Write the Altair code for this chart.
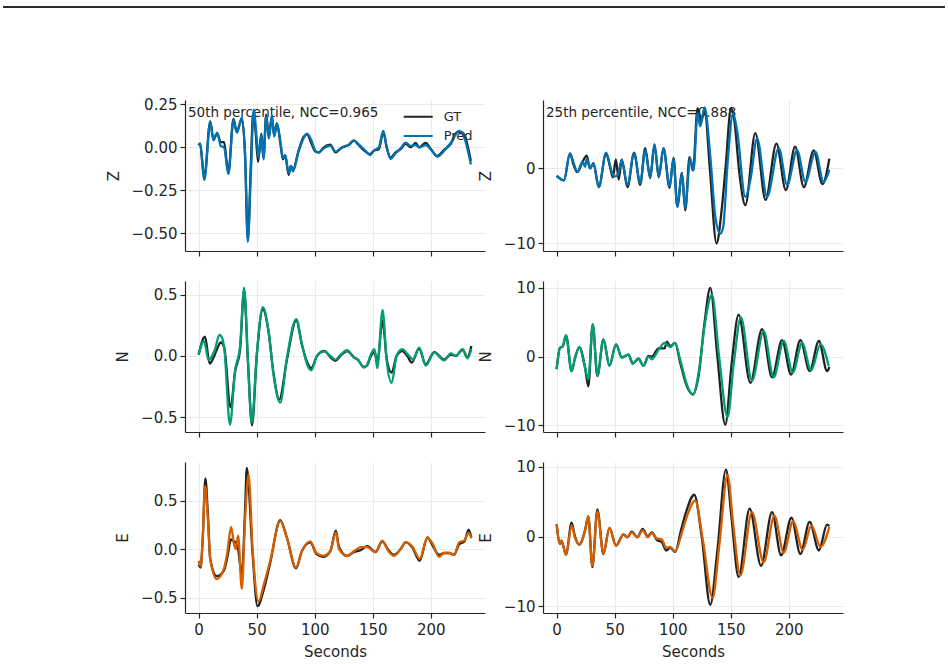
import altair as alt
import pandas as pd

FONT = "DejaVu Sans"
INK = "#262626"

# ---------------- data (seconds, amplitude) ----------------
# Z, 50th percentile
z50_gt_t = [0, 1.2, 4.9, 10.0, 12.7, 16.1, 19.0, 21.9, 25.6, 30.0, 32.9, 37.2, 40.0, 42.4, 45.0, 47.0, 49.0, 51.2, 54.0, 55.9, 58.2, 60.5, 63.1, 65.1, 67.4, 70.3, 72.6, 74.7, 77.5, 79.5, 81.3, 86.1, 90.4, 93.4, 96.8, 100.6, 103.5, 107.8, 113.5, 117.9, 123.6, 129.4, 133.7, 138.0, 143.8, 147.6, 151.0, 155.3, 159.1, 162.0, 165.4, 169.7, 174.1, 178.4, 182.7, 187.0, 190.0, 195.7, 200.0, 205.8, 211.5, 217.3, 223.0, 227.4, 234.6]
z50_gt_v = [0.01, 0.02, -0.175, 0.15, 0.05, 0.08, 0.03, 0.03, -0.15, 0.165, 0.09, 0.165, -0.04, -0.535, -0.1, 0.2, 0.1, -0.085, 0.08, -0.06, 0.19, 0.06, 0.18, 0.07, 0.14, 0.03, -0.07, -0.05, -0.16, -0.11, -0.13, -0.02, 0.06, 0.075, 0.03, -0.025, -0.03, 0.0, 0.015, -0.03, 0.0, 0.015, 0.04, 0.012, -0.025, -0.04, -0.02, -0.01, 0.09, 0.0, -0.06, -0.03, -0.01, 0.02, 0.0, 0.025, 0.0, 0.025, -0.01, -0.05, -0.015, 0.02, 0.09, 0.085, -0.08]
z50_pr_t = [0, 1.2, 4.9, 10.0, 12.7, 16.1, 19.0, 21.9, 25.6, 30.0, 32.9, 37.2, 40.0, 42.4, 45.0, 47.5, 50.1, 51.6, 54.0, 55.9, 58.2, 60.5, 63.1, 65.1, 67.4, 70.3, 72.6, 74.7, 77.5, 79.5, 81.3, 86.1, 90.4, 93.4, 96.8, 100.6, 103.5, 107.8, 113.5, 117.9, 123.6, 129.4, 133.7, 138.0, 143.8, 147.6, 151.0, 155.3, 159.1, 162.0, 165.4, 169.7, 174.1, 178.4, 182.7, 187.0, 190.0, 195.7, 200.0, 205.8, 211.5, 217.3, 224.5, 227.4, 234.6]
z50_pr_v = [0.013, 0.023, -0.19, 0.148, 0.04, 0.085, 0.008, 0.0, -0.155, 0.158, 0.085, 0.173, -0.05, -0.55, -0.15, 0.219, 0.04, -0.06, 0.07, -0.07, 0.18, 0.05, 0.186, 0.062, 0.138, 0.042, -0.063, -0.044, -0.15, -0.108, -0.14, -0.025, 0.052, 0.08, 0.046, -0.02, -0.031, -0.006, 0.01, -0.025, -0.002, 0.013, 0.037, 0.017, -0.021, -0.046, -0.019, 0.0, 0.096, 0.004, -0.067, -0.035, -0.006, 0.027, 0.008, 0.013, 0.0, 0.013, -0.012, -0.054, -0.021, 0.027, 0.096, 0.081, -0.10]

# Z, 25th percentile
z25_gt_t = [0, 4.3, 6.3, 11.5, 14.5, 17.8, 22.4, 25.9, 28.8, 31.7, 36.3, 42.6, 46.0, 48.5, 51.0, 53.5, 56.1, 61.0, 66.8, 72.0, 76.3, 80.6, 84.3, 88.0, 92.1, 97.3, 100.7, 104.0, 108.0, 110.8, 114.5, 117.5, 121.4, 124.5, 127.5, 132.0, 137.8, 142.0, 145.5, 150.3, 153.0, 157.5, 162.6, 171.2, 180.0, 189.4, 197.5, 205.5, 213.0, 221.5, 229.0, 235.0]
z25_gt_v = [-1.0, -1.5, -1.6, 2.0, 0.5, -0.5, 0.9, 1.7, 0.0, 0.7, -2.5, 2.0, 0.2, -1.2, 1.2, -1.5, 1.2, -2.5, 2.1, -2.2, 2.7, -1.3, 3.2, -1.2, 2.7, -2.6, 1.4, -5.1, -0.6, -5.6, 1.5, -0.3, 8.0, 6.2, 7.9, 0.0, -10.0, -5.8, 0.0, 8.0, 6.5, -0.7, -4.9, 4.7, -4.2, 3.3, -2.9, 2.9, -2.5, 2.4, -2.1, 1.3]
z25_pr_t = [0, 4.3, 6.3, 11.5, 14.5, 17.8, 22.4, 24.5, 25.9, 28.8, 31.7, 36.3, 42.6, 47.5, 49.5, 52.5, 56.1, 61.0, 66.8, 72.0, 76.3, 80.6, 84.3, 88.0, 92.1, 97.3, 100.7, 104.0, 108.0, 110.8, 115.1, 118.0, 121.4, 123.7, 127.5, 132.4, 136.7, 141.0, 143.5, 147.3, 152.0, 155.5, 162.6, 167.0, 172.7, 181.3, 191.4, 198.6, 207.2, 214.4, 223.0, 230.0, 235.0]
z25_pr_v = [-1.0, -1.5, -1.6, 2.0, 0.8, -0.45, 0.9, 0.2, 1.3, 0.0, 0.67, -2.5, 2.1, -0.45, -1.1, -0.9, 1.1, -2.2, 2.0, -2.0, 2.4, -1.2, 3.1, -1.1, 2.7, -2.4, 1.3, -5.1, -0.7, -5.3, 1.3, -0.2, 7.3, 5.6, 8.1, 1.6, -6.4, -8.7, -7.8, 0.7, 7.3, 5.0, -3.8, -1.5, 4.0, -3.8, 2.7, -2.2, 2.4, -1.8, 2.2, -1.8, -0.2]

# N, 50th percentile
n50_gt_t = [0, 5.5, 9.5, 13.5, 16.5, 19.0, 22.0, 27.5, 31.4, 35.7, 39.2, 42.5, 46.0, 50.1, 55.3, 60.2, 64.5, 69.5, 76.1, 84.1, 89.0, 93.4, 97.1, 102.0, 108.4, 113.5, 117.9, 122.2, 128.0, 133.7, 137.0, 142.4, 145.0, 148.5, 151.6, 153.9, 158.5, 162.0, 166.3, 170.6, 175.5, 180.4, 183.5, 190.0, 195.7, 203.0, 211.5, 217.3, 221.6, 227.4, 231.7, 235.0]
n50_gt_v = [0.01, 0.156, -0.063, 0.0, 0.07, 0.11, 0.07, -0.42, -0.13, 0.05, 0.53, -0.05, -0.565, 0.0, 0.38, 0.2, -0.14, -0.355, -0.03, 0.29, 0.09, -0.05, -0.1, 0.0, 0.04, -0.01, -0.04, 0.0, 0.04, -0.01, -0.03, -0.09, -0.08, 0.0, 0.03, -0.05, 0.287, -0.02, -0.137, 0.0, 0.04, -0.01, -0.055, 0.06, -0.07, 0.03, -0.03, 0.01, 0.0, 0.05, -0.01, 0.08]
n50_pr_t = [0, 4.6, 8.6, 11.0, 14.0, 17.9, 20.5, 22.0, 27.0, 31.4, 35.7, 39.2, 42.5, 45.8, 50.1, 55.3, 60.2, 64.5, 70.3, 76.1, 84.1, 89.0, 93.4, 97.1, 102.0, 108.4, 113.5, 117.9, 122.2, 128.0, 133.7, 137.0, 142.4, 145.0, 148.5, 151.6, 153.9, 158.5, 162.0, 166.3, 170.6, 175.5, 180.4, 185.0, 190.0, 195.7, 203.0, 211.5, 217.3, 221.6, 227.4, 231.7, 235.0]
n50_pr_v = [0.014, 0.12, -0.035, -0.01, 0.05, 0.17, 0.14, 0.07, -0.56, -0.12, 0.08, 0.555, -0.04, -0.546, 0.014, 0.396, 0.205, -0.15, -0.38, -0.014, 0.3, 0.096, -0.068, -0.117, 0.0, 0.036, 0.0, -0.03, 0.008, 0.046, -0.014, -0.027, -0.096, -0.077, 0.014, 0.055, -0.1, 0.374, -0.041, -0.22, 0.0, 0.055, 0.01, -0.03, 0.068, -0.08, 0.027, -0.036, 0.02, 0.0, 0.055, -0.02, 0.055]

# N, 25th percentile
n25_gt_t = [0, 2.9, 5.2, 8.1, 12.9, 15.8, 19.6, 24.5, 27.3, 31.1, 35.1, 40.3, 45.5, 51.2, 56.1, 61.9, 65.6, 70.5, 74.8, 79.1, 82.0, 87.8, 93.0, 95.0, 97.9, 102.0, 106.5, 112.0, 117.4, 122.3, 127.5, 132.4, 138.5, 145.3, 150.8, 156.8, 166.9, 177.0, 185.6, 194.2, 202.0, 210.0, 218.0, 226.0, 233.0, 235.0]
n25_gt_v = [-1.8, 1.3, 1.5, 3.1, -2.1, -0.2, 1.4, -1.6, -4.3, 4.7, -2.8, 2.5, -1.3, 1.8, -0.1, 0.3, -1.0, -0.3, -1.3, 0.1, 0.0, 1.2, 1.2, 2.2, 1.5, 2.0, -0.9, -4.2, -5.5, -2.8, 5.0, 10.0, 0.0, -9.9, -1.0, 6.1, -3.8, 4.0, -3.0, 2.4, -2.6, 2.4, -2.1, 2.3, -2.1, -1.5]
n25_pr_t = [0, 2.9, 5.2, 8.1, 12.9, 15.8, 19.6, 24.5, 27.3, 31.1, 35.1, 40.3, 45.5, 51.2, 56.1, 61.9, 65.6, 70.5, 74.8, 79.1, 82.0, 87.8, 93.0, 97.9, 102.0, 106.5, 113.0, 117.4, 122.3, 127.5, 133.8, 140.0, 147.3, 152.5, 158.8, 168.3, 178.4, 187.0, 195.7, 203.5, 211.5, 219.3, 227.4, 234.5]
n25_pr_v = [-1.8, 1.3, 1.5, 3.1, -2.1, -0.2, 1.4, -1.6, -3.3, 4.7, -2.8, 2.5, -1.35, 1.8, -0.15, 0.34, -1.0, -0.24, -1.35, 0.0, -0.4, 1.0, 2.0, 1.4, 2.0, -0.5, -4.4, -5.5, -2.4, 4.5, 9.0, 0.0, -8.8, -1.2, 5.7, -3.5, 3.7, -3.0, 2.3, -2.3, 2.0, -2.0, 1.8, -1.4]

# E, 50th percentile
e50_gt_t = [0, 1.7, 3.5, 5.8, 8.0, 10.0, 15.6, 21.9, 24.5, 28.0, 30.5, 32.0, 34.0, 37.2, 40.0, 41.5, 46.5, 50.7, 56.5, 61.7, 70.3, 76.0, 83.9, 89.0, 96.3, 101.5, 107.2, 113.5, 118.2, 121.0, 128.0, 134.0, 139.5, 145.3, 152.4, 158.2, 163.5, 168.3, 174.0, 178.4, 184.0, 190.5, 197.1, 201.5, 207.2, 211.5, 216.0, 220.0, 224.5, 229.0, 232.6, 235.0]
e50_gt_v = [-0.16, -0.19, 0.1, 0.73, 0.35, -0.1, -0.28, -0.22, -0.1, 0.1, 0.08, 0.07, 0.0, -0.26, 0.4, 0.84, -0.05, -0.59, -0.4, -0.14, 0.3, 0.12, -0.2, -0.02, 0.07, -0.05, -0.08, -0.02, 0.19, 0.02, -0.07, -0.03, -0.01, 0.03, -0.03, 0.08, -0.01, -0.06, 0.0, 0.07, 0.02, -0.12, 0.12, 0.04, -0.06, -0.04, -0.04, -0.06, 0.05, 0.08, 0.2, 0.12]
e50_pr_t = [0, 1.7, 3.5, 5.5, 8.0, 10.0, 15.6, 21.9, 24.5, 28.0, 30.5, 32.0, 34.0, 37.2, 40.0, 43.0, 46.5, 51.6, 56.5, 61.7, 70.3, 76.0, 83.9, 89.0, 96.3, 101.5, 107.2, 113.5, 118.2, 121.0, 128.0, 134.0, 139.5, 145.3, 152.4, 158.2, 163.5, 168.3, 174.0, 178.4, 184.0, 190.5, 197.1, 201.5, 207.2, 211.5, 216.0, 220.0, 224.5, 229.0, 232.6, 235.0]
e50_pr_v = [-0.12, -0.175, 0.1, 0.65, 0.3, -0.1, -0.31, -0.2, -0.05, 0.23, 0.05, 0.0, 0.14, -0.41, 0.3, 0.77, 0.0, -0.54, -0.35, -0.12, 0.29, 0.12, -0.19, -0.02, 0.08, -0.04, -0.07, -0.02, 0.17, 0.0, -0.07, -0.02, 0.02, 0.02, -0.03, 0.087, -0.02, -0.07, 0.0, 0.07, 0.03, -0.1, 0.115, 0.06, -0.08, -0.04, -0.04, -0.06, 0.07, 0.09, 0.17, 0.11]

# E, 25th percentile
e25_gt_t = [0, 2.9, 4.3, 5.5, 8.1, 12.9, 15.8, 19.6, 24.5, 27.3, 30.8, 35.1, 40.3, 45.5, 51.2, 57.6, 61.0, 64.7, 69.5, 74.2, 78.5, 82.0, 86.5, 90.6, 94.4, 97.8, 102.2, 107.0, 111.5, 118.6, 125.0, 132.4, 138.5, 145.9, 150.5, 156.8, 166.3, 176.1, 185.6, 193.4, 202.3, 210.0, 218.0, 226.0, 233.0, 235.0]
e25_gt_v = [1.8, -1.05, -0.6, -1.2, -2.6, 2.0, 0.0, -1.15, 0.9, 2.9, -4.4, 3.9, -2.5, 1.25, -1.3, 0.3, -0.1, 0.7, -0.1, 1.1, 0.0, 0.6, -0.5, -0.8, -2.0, -1.6, -2.2, 0.8, 3.5, 6.0, 0.0, -9.8, -2.0, 9.6, 3.0, -5.8, 4.0, -4.2, 3.5, -2.7, 2.7, -2.5, 2.1, -2.0, 1.7, 1.5]
e25_pr_t = [0, 2.9, 4.3, 5.5, 8.1, 12.9, 15.8, 19.6, 24.5, 27.3, 30.8, 35.1, 40.3, 45.5, 51.2, 57.6, 61.0, 64.7, 69.5, 74.2, 78.5, 82.0, 86.5, 90.6, 94.4, 97.8, 102.2, 108.0, 112.5, 119.4, 126.0, 134.4, 140.0, 147.3, 152.0, 158.3, 168.3, 178.4, 187.7, 195.7, 203.7, 212.1, 219.6, 227.4, 235.0]
e25_pr_v = [1.8, -1.0, -0.6, -1.2, -2.6, 1.6, -0.2, -1.1, 0.9, 2.9, -4.2, 3.6, -2.4, 1.2, -1.3, 0.3, -0.1, 0.6, -0.1, 0.9, -0.1, 0.5, -0.3, -0.4, -1.6, -1.5, -2.1, 0.6, 3.0, 5.2, -0.5, -8.8, -1.5, 8.8, 2.0, -5.6, 3.5, -3.7, 3.0, -2.3, 2.2, -1.9, 1.6, -1.5, 1.4]

# ---------------- labels, ticks, domains ----------------
series_names = ["GT", "Pred"]
channels = ["Z", "N", "E"]
annotations = ["50th percentile, NCC=0.965", "25th percentile, NCC=0.888"]
gt_color = "#222222"
pred_colors = ["#0173b2", "#029e73", "#d55e00"]
x_ticks = [0, 50, 100, 150, 200]
x_domain = [-11.75, 246.75]
y_domains = [[-0.603, 0.275], [-11.0, 9.1], [-0.62, 0.61], [-10.95, 11.0], [-0.66, 0.90], [-10.97, 10.7]]
y_ticks = [[-0.5, -0.25, 0, 0.25], [-10, 0], [-0.5, 0, 0.5], [-10, 0, 10], [-0.5, 0, 0.5], [-10, 0, 10]]
y_formats = [".2f", "d", ".1f", "d", ".1f", "d"]

W, H = 300, 151


def make_panel(idx, gt_t, gt_v, pr_t, pr_v):
    row, col = idx // 2, idx % 2
    bottom = row == 2
    gt = pd.DataFrame({"t": gt_t, "v": gt_v, "series": series_names[0]})
    pr = pd.DataFrame({"t": pr_t, "v": pr_v, "series": series_names[1]})

    if bottom:
        xaxis = alt.Axis(values=x_ticks, format="d", title="Seconds", labelFlush=False)
    else:
        xaxis = alt.Axis(values=x_ticks, labels=False, title=None)
    x = alt.X("t:Q", scale=alt.Scale(domain=x_domain, nice=False, zero=False), axis=xaxis)
    y = alt.Y("v:Q", scale=alt.Scale(domain=y_domains[idx], nice=False, zero=False),
              axis=alt.Axis(values=y_ticks[idx], format=y_formats[idx], title=channels[row],
                            labelFlush=False))

    line = dict(strokeWidth=2.3, interpolate="monotone")
    layers = []
    if idx == 0:
        # figure separator line at the very top
        layers.append(
            alt.Chart(pd.DataFrame({"k": [0]})).mark_rule(color="#2a2a2a", strokeWidth=2)
            .encode(x=alt.value(-182), x2=alt.value(760), y=alt.value(-93))
        )
    if row == 0:
        layers.append(
            alt.Chart(pd.DataFrame({"label": [annotations[col]]}))
            .mark_text(align="left", baseline="alphabetic", font=FONT, fontSize=13.5, color=INK)
            .encode(x=alt.value(3), y=alt.value(17), text="label:N")
        )
    if idx == 0:
        color = alt.Color(
            "series:N",
            scale=alt.Scale(domain=series_names, range=[gt_color, pred_colors[0]]),
            legend=alt.Legend(orient="none", legendX=217.7, legendY=8.7, title=None,
                              direction="vertical", symbolType="stroke", symbolSize=841,
                              symbolStrokeWidth=2, clipHeight=16, rowPadding=3.3,
                              labelFontSize=13, labelFont=FONT, labelColor=INK,
                              labelOffset=10, padding=0),
        )
        layers.append(alt.Chart(gt).mark_line(**line).encode(x=x, y=y, color=color))
        layers.append(alt.Chart(pr).mark_line(**line).encode(x=x, y=y, color=color))
    else:
        layers.append(alt.Chart(gt).mark_line(color=gt_color, **line).encode(x=x, y=y))
        layers.append(alt.Chart(pr).mark_line(color=pred_colors[row], **line).encode(x=x, y=y))
    return alt.layer(*layers).properties(width=W, height=H)


series = [
    (z50_gt_t, z50_gt_v, z50_pr_t, z50_pr_v),
    (z25_gt_t, z25_gt_v, z25_pr_t, z25_pr_v),
    (n50_gt_t, n50_gt_v, n50_pr_t, n50_pr_v),
    (n25_gt_t, n25_gt_v, n25_pr_t, n25_pr_v),
    (e50_gt_t, e50_gt_v, e50_pr_t, e50_pr_v),
    (e25_gt_t, e25_gt_v, e25_pr_t, e25_pr_v),
]
panels = [make_panel(i, *s) for i, s in enumerate(series)]

chart = (
    alt.concat(*panels, columns=2, spacing={"row": 30, "column": 58}, bounds="flush")
    .properties(padding={"left": 2, "top": 6, "right": 0, "bottom": 0})
    .configure_view(stroke=None)
    .configure_axis(labelFont=FONT, titleFont=FONT, labelFontSize=15, titleFontSize=15,
                    titleFontWeight="normal", labelColor=INK, titleColor=INK,
                    domainColor=INK, tickColor=INK, domainWidth=1.2, tickWidth=1.2,
                    tickSize=5, gridColor="#ebebeb", gridWidth=1)
    .configure_axisY(labelPadding=3, titlePadding=10)
    .configure_axisX(labelPadding=4, titlePadding=7)
)

chart.save("out.html", embed_options={"renderer": "svg", "actions": False})
